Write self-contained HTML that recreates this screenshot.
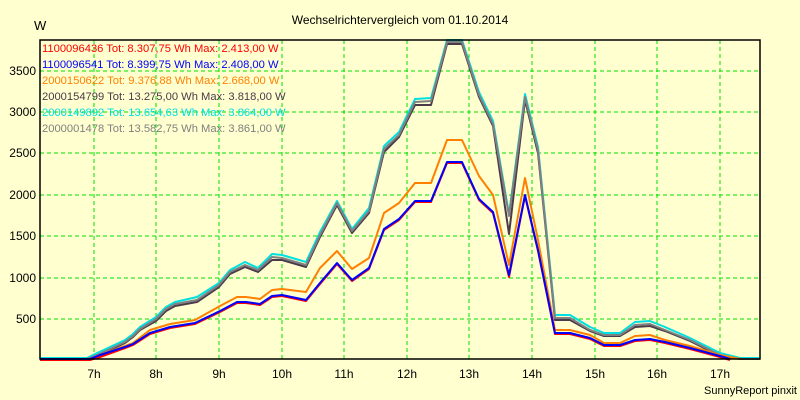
<!DOCTYPE html>
<html><head><style>
html,body{margin:0;padding:0;background:#ffffd0;}
svg{display:block;font-family:"Liberation Sans",sans-serif;}
</style></head><body>
<svg width="800" height="400" viewBox="0 0 800 400">
<rect width="800" height="400" fill="#ffffd0"/>
<g stroke="#00e000" stroke-width="1" stroke-dasharray="4,3">
<line x1="94" y1="40" x2="94" y2="359"/><line x1="156" y1="40" x2="156" y2="359"/><line x1="219" y1="40" x2="219" y2="359"/><line x1="282" y1="40" x2="282" y2="359"/><line x1="344" y1="40" x2="344" y2="359"/><line x1="407" y1="40" x2="407" y2="359"/><line x1="469" y1="40" x2="469" y2="359"/><line x1="532" y1="40" x2="532" y2="359"/><line x1="595" y1="40" x2="595" y2="359"/><line x1="657" y1="40" x2="657" y2="359"/><line x1="720" y1="40" x2="720" y2="359"/>
<line x1="40" y1="319" x2="760" y2="319"/><line x1="40" y1="278" x2="760" y2="278"/><line x1="40" y1="236" x2="760" y2="236"/><line x1="40" y1="195" x2="760" y2="195"/><line x1="40" y1="153" x2="760" y2="153"/><line x1="40" y1="112" x2="760" y2="112"/><line x1="40" y1="71" x2="760" y2="71"/>
</g>
<g font-size="12" fill="#000" text-anchor="end">
<text x="36" y="323">500</text><text x="36" y="282">1000</text><text x="36" y="240">1500</text><text x="36" y="199">2000</text><text x="36" y="157">2500</text><text x="36" y="116">3000</text><text x="36" y="75">3500</text>
</g>
<g font-size="12" fill="#000" text-anchor="middle">
<text x="94" y="378">7h</text><text x="156" y="378">8h</text><text x="219" y="378">9h</text><text x="282" y="378">10h</text><text x="344" y="378">11h</text><text x="407" y="378">12h</text><text x="469" y="378">13h</text><text x="532" y="378">14h</text><text x="595" y="378">15h</text><text x="657" y="378">16h</text><text x="720" y="378">17h</text>
</g>
<text x="34" y="30" font-size="13">W</text>
<text x="400" y="24" font-size="12" text-anchor="middle">Wechselrichtervergleich vom 01.10.2014</text>
<text x="797" y="394" font-size="11" text-anchor="end">SunnyReport pinxit</text>
<g fill="none" stroke-width="2" stroke-linejoin="round">
<polyline stroke="#00e0e0" points="40,358 87,358 95,354 110,347 125,340 133,334 140,327 156,317 166,307 175,302 197,297 219,283 230,270 245,262 258,268 272,254 282,255 306,262 320,232 337,201 352,229 369,208 384,146 399,132 415,99 431,98 447,40 462,40 479,92 493,121 509,214 525,94 538,147 555,315 570,315 590,327 604,333 620,333 635,322 650,321 665,327 690,338 720,353 740,358 760,358"/>
<polyline stroke="#4a3a4a" points="40,359 87,359 95,357 110,350 125,343 133,337 140,330 156,321 166,311 175,306 197,302 219,287 230,274 245,267 258,272 272,260 282,260 306,267 320,237 337,205 352,233 369,213 384,152 399,137 415,105 431,105 447,44 462,44 479,97 493,126 509,234 525,100 538,153 555,320 570,320 590,331 604,336 620,336 635,327 650,326 665,331 690,341 720,356 740,359 760,359"/>
<polyline stroke="#808080" points="40,359 87,359 95,356 110,349 125,342 133,336 140,329 156,319 166,309 175,304 197,300 219,285 230,272 245,265 258,270 272,257 282,258 306,265 320,235 337,203 352,231 369,211 384,149 399,135 415,102 431,101 447,42 462,42 479,95 493,124 509,216 525,97 538,150 555,318 570,318 590,330 604,335 620,335 635,325 650,324 665,330 690,340 720,355 740,359 760,359"/>
<polyline stroke="#ff8000" points="40,359 90,359 100,355 125,346 133,343 150,330 170,324 195,320 220,306 237,297 246,297 260,299 272,290 282,289 306,292 320,268 337,251 352,269 369,258 384,213 399,203 415,183 431,183 447,140 462,140 479,176 493,195 509,265 525,178 538,240 555,330 570,330 590,335 604,343 620,343 635,336 650,335 665,340 690,346 720,355 740,359"/>
<polyline stroke="#ff0000" points="40,360 90,360 100,357 125,348 133,345 150,334 170,328 195,324 220,312 237,303 246,303 260,305 272,297 282,296 306,301 320,284 337,264 352,281 369,269 384,230 399,220 415,202 431,202 447,163 462,163 479,200 493,213 509,277 525,196 538,251 555,334 570,334 590,339 604,346 620,346 635,341 650,340 665,343 690,349 720,357 730,360"/>
<polyline stroke="#0000ff" points="40,359 90,359 100,355 125,347 133,344 150,333 170,327 195,323 220,311 237,302 246,302 260,304 272,296 282,295 306,300 320,283 337,263 352,280 369,268 384,229 399,219 415,201 431,201 447,162 462,162 479,199 493,212 509,275 525,195 538,250 555,333 570,333 590,338 604,345 620,345 635,340 650,339 665,342 690,348 720,356 730,359"/>
</g>
<rect x="40" y="40" width="720" height="319" fill="none" stroke="#000" stroke-width="1.5"/>
<g font-size="11.2">
<text x="42" y="52" fill="#ff0000">1100096436 Tot: 8.307,75 Wh Max: 2.413,00 W</text>
<text x="42" y="68" fill="#0000ff">1100096541 Tot: 8.399,75 Wh Max: 2.408,00 W</text>
<text x="42" y="84" fill="#ff8000">2000150622 Tot: 9.376,88 Wh Max: 2.668,00 W</text>
<text x="42" y="100" fill="#4a3a4a">2000154799 Tot: 13.275,00 Wh Max: 3.818,00 W</text>
<text x="42" y="116" fill="#00e0e0">2000149892 Tot: 13.654,63 Wh Max: 3.864,00 W</text>
<text x="42" y="132" fill="#808080">2000001478 Tot: 13.582,75 Wh Max: 3.861,00 W</text>
</g>
</svg>
</body></html>
